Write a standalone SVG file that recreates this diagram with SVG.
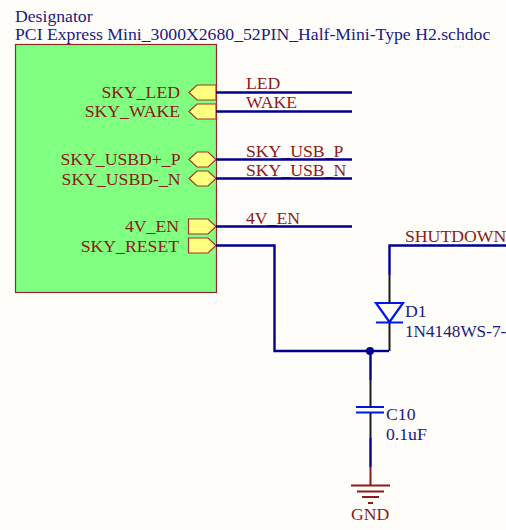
<svg xmlns="http://www.w3.org/2000/svg" width="506" height="530" viewBox="0 0 506 530">
<style>
text{font-family:"Liberation Serif","Times New Roman",serif;font-size:17.7px}
.n{fill:#1a1a80}
.r{fill:#8b1a1a}
.e{text-anchor:end}
.w{fill:none;stroke:#00008f;stroke-width:2.4}
.b{fill:none;stroke:#1a1a1a;stroke-width:2}
.s{fill:none;stroke:#0018f0;stroke-width:2.2}
.g{fill:none;stroke:#8b1a1a;stroke-width:2}
.p{fill:#ffff80;stroke:#a5372a;stroke-width:1.2}
</style>
<rect width="506" height="530" fill="#fffdf9"/>
<g id="sheet">
<rect x="15.500" y="44.500" width="201" height="248" fill="#80ff80" stroke="#8b2a2a" stroke-width="1.2"/>
<text class="n" x="15" y="22">Designator</text>
<text class="n" x="15" y="40">PCI Express Mini_3000X2680_52PIN_Half-Mini-Type H2.schdoc</text>
</g>
<g id="pin-led"><path class="p" d="M189 92.500L197 85H216V100H197Z"/><text class="r e" x="180" y="98">SKY_LED</text><text class="r" x="246" y="89">LED</text></g>
<g id="pin-wake"><path class="p" d="M189 111.500L197 104H216V119H197Z"/><text class="r e" x="180" y="117">SKY_WAKE</text><text class="r" x="246" y="108">WAKE</text></g>
<g id="pin-usbp"><path class="p" d="M189 159.500L197 152H208L216 159.500L208 167H197Z"/><text class="r e" x="180.500" y="165">SKY_USBD+_P</text><text class="r" x="246" y="157">SKY_USB_P</text></g>
<g id="pin-usbn"><path class="p" d="M189 178.500L197 171H208L216 178.500L208 186H197Z"/><text class="r e" x="180.500" y="185">SKY_USBD-_N</text><text class="r" x="246" y="176">SKY_USB_N</text></g>
<g id="pin-4ven"><path class="p" d="M188.500 219H208L216 226.500L208 234H188.500Z"/><text class="r e" x="179" y="232">4V_EN</text><text class="r" x="246" y="224">4V_EN</text></g>
<g id="pin-reset"><path class="p" d="M188.500 238H208L216 245.500L208 253H188.500Z"/><text class="r e" x="179" y="252">SKY_RESET</text></g>
<g id="net-shutdown"><text class="r" x="405" y="242">SHUTDOWN</text></g>
<g id="D1">
<path class="s" d="M376 303H403L389.500 322ZM376 322.500H403"/>
<text class="n" x="405" y="317">D1</text>
<text class="n" x="405" y="337" style="font-size:17.2px">1N4148WS-7-</text>
</g>
<g id="C10">
<path class="s" d="M356 407H384M356 412.500H384"/>
<text class="n" x="386" y="420">C10</text>
<text class="n" x="386" y="440">0.1uF</text>
</g>
<g id="GND">
<path class="g" d="M370.500 467V485M351 485.500H390M357 491.500H384M362 497H379M368 503H373"/>
<text class="r" x="351" y="520">GND</text>
</g>
<g id="connectors">
<path class="w" d="M216 92.500H352M216 111.500H352M216 159.500H352M216 178.500H352M216 226.500H352"/>
<path class="w" d="M216 245.500H274.500V351H370.500"/>
<path class="w" d="M506 245.500H389.500V275"/>
<path class="b" d="M389.500 275V303M389.500 323V351"/>
<path class="w" d="M370.500 351V380"/>
<path class="w" d="M370.500 351H389"/>
<path class="b" d="M370.500 380V408M370.500 413V438"/>
<path class="w" d="M370.500 438V467"/>
<circle cx="370" cy="351" r="4" fill="#00008f"/>
</g>
</svg>
